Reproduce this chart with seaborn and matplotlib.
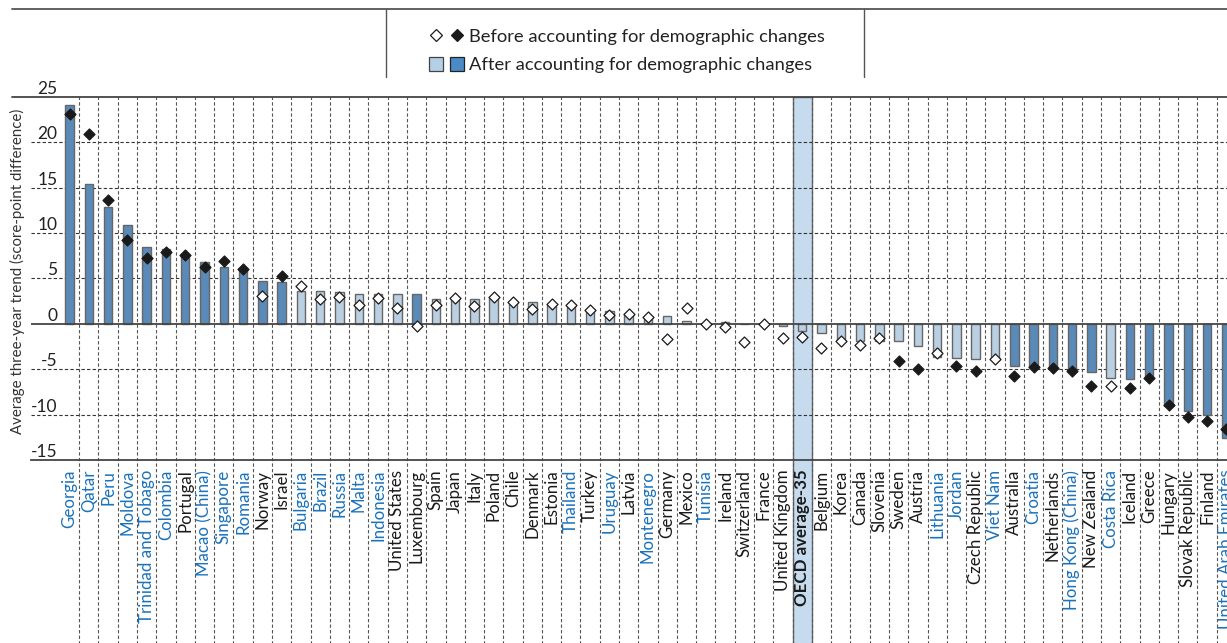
import numpy as np
import matplotlib
matplotlib.use("Agg")
import matplotlib.pyplot as plt
from matplotlib.lines import Line2D
from matplotlib.patches import Patch
from matplotlib.legend_handler import HandlerTuple
import seaborn as sns

# Data
countries = ["Georgia", "Qatar", "Peru", "Moldova", "Trinidad and Tobago", "Colombia", "Portugal",
             "Macao (China)", "Singapore", "Romania", "Norway", "Israel", "Bulgaria", "Brazil", "Russia",
             "Malta", "Indonesia", "United States", "Luxembourg", "Spain", "Japan", "Italy", "Poland",
             "Chile", "Denmark", "Estonia", "Thailand", "Turkey", "Uruguay", "Latvia", "Montenegro",
             "Germany", "Mexico", "Tunisia", "Ireland", "Switzerland", "France", "United Kingdom",
             "OECD average-35", "Belgium", "Korea", "Canada", "Slovenia", "Sweden", "Austria",
             "Lithuania", "Jordan", "Czech Republic", "Viet Nam", "Australia", "Croatia", "Netherlands",
             "Hong Kong (China)", "New Zealand", "Costa Rica", "Iceland", "Greece", "Hungary",
             "Slovak Republic", "Finland", "United Arab Emirates"]

after = [24.1, 15.4, 12.9, 10.9, 8.4, 8.2, 7.7, 6.8, 6.2, 6.1, 4.7, 4.65, 3.65, 3.6, 3.5,
         3.3, 3.3, 3.3, 3.3, 2.75, 2.7, 2.75, 2.8, 2.4, 2.4, 2.2, 2.2, 1.65, 1.45, 1.1, 0.9,
         0.9, 0.25, 0.0, 0.15, 0.0, 0.0, -0.3, -0.75, -1.0, -1.85, -1.85, -1.95, -1.9, -2.45,
         -3.7, -3.8, -3.85, -3.9, -4.65, -4.8, -4.9, -5.2, -5.3, -6.0, -6.05, -5.9, -9.0,
         -9.6, -10.1, -12.55]

before = [23.1, 20.9, 13.65, 9.2, 7.2, 7.95, 7.6, 6.3, 6.9, 6.0, 3.05, 5.3, 4.15, 2.7, 2.9,
          2.1, 2.8, 1.75, -0.3, 2.1, 2.8, 2.0, 2.9, 2.35, 1.65, 2.2, 2.05, 1.5, 1.0, 1.1, 0.75,
          -1.7, 1.7, 0.0, -0.4, -2.0, 0.0, -1.55, -1.5, -2.7, -1.85, -2.3, -1.55, -4.05, -4.95,
          -3.2, -4.7, -5.25, -3.85, -5.75, -4.8, -4.9, -5.2, -6.8, -6.8, -7.1, -6.0, -8.9,
          -10.25, -10.7, -11.55]

# 1 = statistically significant (dark bar / filled diamond)
after_sig = [1, 1, 1, 1, 1, 1, 1, 1, 1, 1, 1, 1, 0, 0, 0, 0, 0, 0, 1, 0, 0, 0, 0, 0, 0, 0, 0, 0,
             0, 0, 0, 0, 0, 0, 0, 0, 0, 0, 0, 0, 0, 0, 0, 0, 0, 0, 0, 0, 0, 1, 1, 1, 1, 1, 0, 1,
             1, 1, 1, 1, 1]
before_sig = [1, 1, 1, 1, 1, 1, 1, 1, 1, 1, 0, 1, 0, 0, 0, 0, 0, 0, 0, 0, 0, 0, 0, 0, 0, 0, 0, 0,
              0, 0, 0, 0, 0, 0, 0, 0, 0, 0, 0, 0, 0, 0, 0, 1, 1, 0, 1, 1, 0, 1, 1, 1, 1, 1, 0, 1,
              1, 1, 1, 1, 1]

partners = ["Georgia", "Qatar", "Peru", "Moldova", "Trinidad and Tobago", "Colombia", "Macao (China)",
            "Singapore", "Romania", "Bulgaria", "Brazil", "Russia", "Malta", "Indonesia", "Thailand",
            "Uruguay", "Montenegro", "Tunisia", "Lithuania", "Jordan", "Viet Nam", "Croatia",
            "Hong Kong (China)", "Costa Rica", "United Arab Emirates"]

dark_blue = "#4a8bc6"
light_blue = "#b4d0e7"
band_blue = "#c6dbee"
label_blue = "#1a72bb"

sns.set_style("white")
plt.rcParams["font.family"] = ["Lato", "DejaVu Sans"]

W, H = 1227, 643
fig = plt.figure(figsize=(W / 100, H / 100), dpi=100)

# axes placement (pixels -> figure fraction); right edge runs past the figure like the reference
left_px, top_px, bot_px = 31, 96.7, 460
x_lo, x_hi = -2.0, 61.0
step_px = 19.28
ax = fig.add_axes([left_px / W, 1 - bot_px / H, (x_hi - x_lo) * step_px / W, (bot_px - top_px) / H])

n = len(countries)
after_lab = ["sig" if s else "ns" for s in after_sig]
before_lab = ["sig" if s else "ns" for s in before_sig]

# OECD average highlight band, also running through the label area
oecd_i = countries.index("OECD average-35")
ax.axvspan(oecd_i - 0.5, oecd_i + 0.5, ymin=-0.51, ymax=1, color=band_blue, lw=0, clip_on=False, zorder=0)

# grid
for v in [20, 15, 10, 5, -5, -10]:
    ax.axhline(v, color="#333333", lw=0.8, ls=(0, (3, 2)), zorder=1)
for i in range(n - 1):
    ax.axvline(i + 0.5, ymin=-0.51, ymax=1, color="#555555", lw=0.8, ls=(0, (3, 2)),
               clip_on=False, zorder=1)

sns.barplot(x=countries, y=after, hue=after_lab, palette={"sig": dark_blue, "ns": light_blue},
            order=countries, dodge=False, width=0.44, legend=False, ax=ax, zorder=2)
for p in ax.patches:
    fc = p.get_facecolor()
    if abs(fc[0] - matplotlib.colors.to_rgba(dark_blue)[0]) < 0.02:
        p.set_edgecolor("#222222")
    else:
        p.set_edgecolor("#666666")
    p.set_linewidth(1.0)

ax.axhline(0, color="#444444", lw=1.3, zorder=3)

sns.stripplot(x=countries, y=before, hue=before_lab, palette={"sig": "#1a1a1a", "ns": "white"},
              order=countries, jitter=False, dodge=False, marker="D", size=5.6, linewidth=0.9,
              edgecolor="#1a1a1a", legend=False, ax=ax, zorder=4)

ax.set_xlim(x_lo, x_hi)
ax.set_ylim(-15, 25)
ax.set_yticks([25, 20, 15, 10, 5, 0, -5, -10, -15])
ax.set_yticklabels(["25", "20", "15", "10", "5", "0", "-5", "-10", "-15"])
ax.tick_params(axis="y", length=0, pad=-19, labelsize=12.5, labelcolor="#222222")
for t in ax.get_yticklabels():
    t.set_verticalalignment("bottom")
    t.set_horizontalalignment("right")

ax.set_xticks(range(n))
ax.set_xticklabels(countries, rotation=90, fontsize=12.2)
ax.tick_params(axis="x", length=0, pad=7)
for t in ax.get_xticklabels():
    name = t.get_text()
    t.set_color(label_blue if name in partners else "#1a1a1a")
    t.set_verticalalignment("top")
    if name == "OECD average-35":
        t.set_fontweight("bold")

ax.set_xlabel("")
ax.set_ylabel("Average three-year trend (score-point difference)", fontsize=10.8, color="#333333")
ax.yaxis.set_label_coords(-0.005, 0.52)

for s in ["left", "right", "top"]:
    ax.spines[s].set_visible(False)
ax.spines["bottom"].set_color("#444444")
ax.spines["bottom"].set_linewidth(1.3)

# frame lines above the plot and around the legend
fig.add_artist(Line2D([12 / W, 1], [1 - top_px / H] * 2, color="#444444", lw=1.3))
fig.add_artist(Line2D([12 / W, 1], [1 - 9 / H] * 2, color="#555555", lw=1.3))
for xp in [386, 864]:
    fig.add_artist(Line2D([xp / W] * 2, [1 - 9 / H, 1 - 77 / H], color="#555555", lw=1.0))

h_before = (Line2D([], [], marker="D", ls="", ms=6.0, mfc="white", mec="#1a1a1a", mew=0.9),
            Line2D([], [], marker="D", ls="", ms=6.0, mfc="#1a1a1a", mec="#1a1a1a", mew=0.9))
h_after = (Patch(facecolor=light_blue, edgecolor="#444444", lw=0.9),
           Patch(facecolor=dark_blue, edgecolor="#222222", lw=0.9))
fig.legend([h_before, h_after],
           ["Before accounting for demographic changes", "After accounting for demographic changes"],
           handler_map={tuple: HandlerTuple(ndivide=None, pad=0.4)},
           loc="center", bbox_to_anchor=(627 / W, 1 - 51 / H), frameon=False, fontsize=13.2,
           handlelength=1.9, handleheight=0.8, handletextpad=0.3, labelspacing=0.65,
           labelcolor="#222222")

fig.savefig("out.png", dpi=100)
